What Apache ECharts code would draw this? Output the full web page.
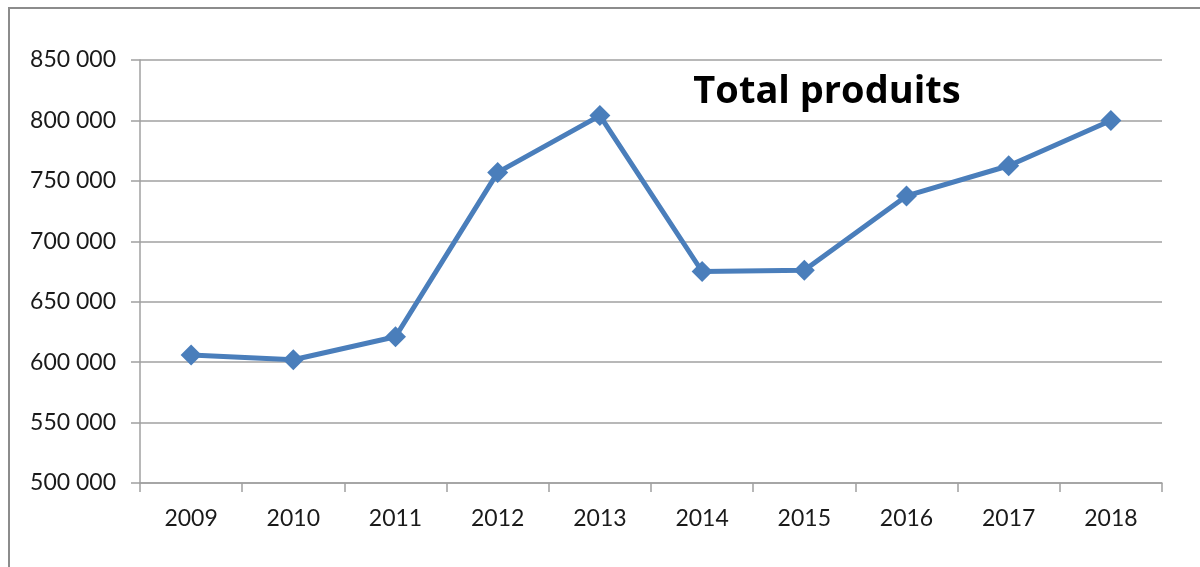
<!DOCTYPE html>
<html>
<head>
<meta charset="utf-8">
<script src="https://cdn.jsdelivr.net/npm/echarts@6/dist/echarts.min.js"></script>
<style>
  html, body { margin: 0; padding: 0; background: #fff; }
  #chart { width: 1200px; height: 567px; }
</style>
</head>
<body>
<div id="chart"></div>
<script>
// Annual totals of "produits"
const years = ['2009', '2010', '2011', '2012', '2013', '2014', '2015', '2016', '2017', '2018'];
const totals = [606000, 602000, 621000, 757000, 804000, 675000, 676000, 737500, 762500, 800000];
const yTicks = { min: 500000, max: 850000, step: 50000 };

const fontFamily = 'Lato, "Open Sans", sans-serif';
const gray = '#a0a0a0';

// French-style thousands separator: "850 000"
function fmt(v) {
  return String(v).replace(/\B(?=(\d{3})+(?!\d))/g, ' ');
}

const chart = echarts.init(document.getElementById('chart'));
chart.setOption({
  animation: false,
  backgroundColor: '#fff',
  graphic: [{
    type: 'rect',
    shape: { x: 9, y: 8, width: 1400, height: 800 },
    style: { fill: 'none', stroke: '#8c8c8c', lineWidth: 2 },
    silent: true
  }],
  title: {
    text: 'Total produits',
    left: 822,
    top: 68,
    textAlign: 'center',
    textStyle: { fontFamily: '"Open Sans", Lato, sans-serif', fontSize: 38, fontWeight: 'bold', color: '#000' }
  },
  grid: { left: 140, right: 38, top: 60, bottom: 84 },
  xAxis: {
    type: 'category',
    data: years,
    boundaryGap: true,
    axisLine: { lineStyle: { color: gray, width: 1.5 } },
    axisTick: { show: true, length: 9, alignWithLabel: false, lineStyle: { color: gray, width: 1.5 } },
    axisLabel: { color: '#1a1a1a', fontFamily, fontSize: 23, margin: 24 }
  },
  yAxis: {
    type: 'value',
    min: yTicks.min,
    max: yTicks.max,
    interval: yTicks.step,
    axisLine: { show: true, lineStyle: { color: gray, width: 1.5 } },
    axisTick: { show: true, length: 9, lineStyle: { color: gray, width: 1.5 } },
    splitLine: { lineStyle: { color: gray, width: 1.5 } },
    axisLabel: { color: '#1a1a1a', fontFamily, fontSize: 23, margin: 24, formatter: fmt }
  },
  series: [{
    type: 'line',
    data: totals,
    symbol: 'diamond',
    symbolSize: 21,
    lineStyle: { color: '#4a7ebb', width: 5 },
    itemStyle: { color: '#4a7ebb' }
  }]
});
</script>
</body>
</html>
